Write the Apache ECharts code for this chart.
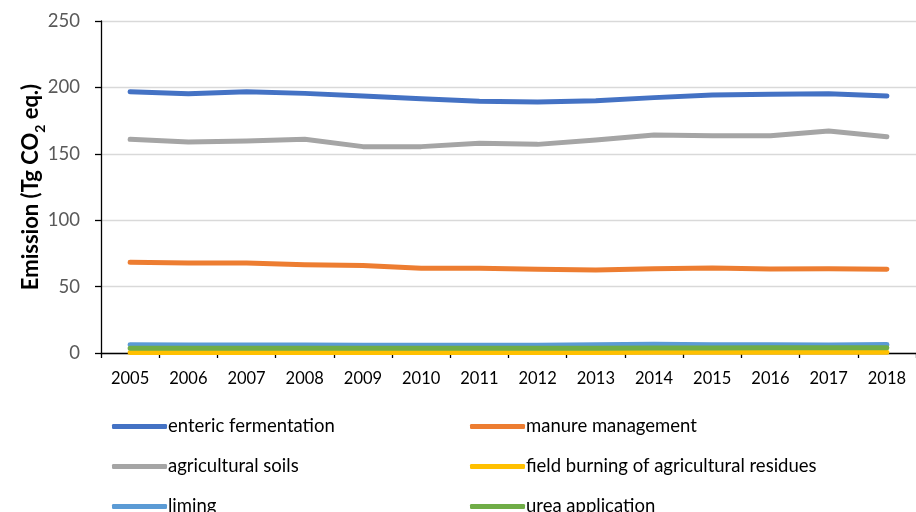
<!DOCTYPE html>
<html>
<head>
<meta charset="utf-8">
<script src="https://cdn.jsdelivr.net/npm/echarts@6/dist/echarts.min.js"></script>
<style>html,body{margin:0;padding:0;background:#fff;}#chart{width:916px;height:512px;}</style>
</head>
<body>
<div id="chart"></div>
<script>
var years = ['2005','2006','2007','2008','2009','2010','2011','2012','2013','2014','2015','2016','2017','2018'];
var entericFermentation = [196.8, 195.3, 196.8, 195.5, 193.5, 191.5, 189.5, 189.0, 190.0, 192.3, 194.3, 194.8, 195.3, 193.5];
var manureManagement = [68.3, 67.8, 67.8, 66.5, 65.8, 63.8, 63.8, 63.0, 62.5, 63.5, 64.0, 63.3, 63.5, 63.0];
var agriculturalSoils = [160.9, 158.9, 159.6, 160.9, 155.4, 155.4, 157.9, 157.1, 160.4, 164.2, 163.6, 163.6, 167.2, 162.9];
var fieldBurning = [0.4, 0.4, 0.4, 0.4, 0.4, 0.4, 0.4, 0.4, 0.4, 0.5, 0.5, 0.5, 0.5, 0.5];
var liming = [6.3, 6.1, 6.0, 6.0, 5.9, 5.8, 5.9, 5.9, 6.2, 6.6, 6.2, 6.2, 6.0, 6.4];
var ureaApplication = [3.5, 3.5, 3.5, 3.5, 3.5, 3.5, 3.5, 3.5, 3.6, 3.7, 3.8, 3.9, 3.9, 4.0];
var yTicks = [0, 50, 100, 150, 200, 250];

var seriesNames = ['enteric fermentation','manure management','agricultural soils','field burning of agricultural residues','liming','urea application'];
var seriesData = [entericFermentation, manureManagement, agriculturalSoils, fieldBurning, liming, ureaApplication];
var colors = ['#4472C4','#ED7D31','#A5A5A5','#FFC000','#5B9BD5','#70AD47'];
var FONT = 'Lato';

var chart = echarts.init(document.getElementById('chart'));
var legendBase = {
  orient: 'vertical',
  top: 411,
  height: 160,
  itemWidth: 55,
  itemHeight: 5,
  itemGap: 19,
  icon: 'roundRect',
  textStyle: {fontFamily: FONT, fontSize: 18.5, color: '#000', padding: [0,0,0,-4], lineHeight: 21}
};
chart.setOption({
  animation: false,
  color: colors,
  grid: {left: 101, top: 21, width: 823, height: 332, containLabel: false},
  legend: [
    Object.assign({}, legendBase, {left: 107, data: [seriesNames[0], seriesNames[2], seriesNames[4]]}),
    Object.assign({}, legendBase, {left: 465, data: [seriesNames[1], seriesNames[3], seriesNames[5]]})
  ],
  xAxis: {
    type: 'category',
    data: years,
    boundaryGap: true,
    axisLine: {lineStyle: {color: '#000', width: 1.3}},
    axisTick: {show: true, length: 5, lineStyle: {color: '#000', width: 1.3}},
    axisLabel: {fontFamily: FONT, fontSize: 16.5, color: '#000', margin: 17}
  },
  yAxis: {
    type: 'value',
    min: yTicks[0],
    max: yTicks[yTicks.length - 1],
    interval: 50,
    name: '{b|Emission (Tg CO}{s|2}{b| eq.)}',
    nameLocation: 'middle',
    nameGap: 59,
    nameMoveOverlap: false,
    nameTextStyle: {
      rich: {
        b: {fontFamily: FONT, fontSize: 22, fontWeight: 'bold', color: '#000', lineHeight: 26, verticalAlign: 'bottom'},
        s: {fontFamily: FONT, fontSize: 14, fontWeight: 'bold', color: '#000', lineHeight: 26, verticalAlign: 'bottom', padding: [0,0,-5,0]}
      }
    },
    axisLine: {show: true, lineStyle: {color: '#000', width: 1.3}},
    axisTick: {show: true, length: 6, inside: false, lineStyle: {color: '#000', width: 1.3}},
    axisLabel: {fontFamily: FONT, fontSize: 18.5, color: '#595959', margin: 21},
    splitLine: {show: true, lineStyle: {color: '#D9D9D9', width: 1.3}}
  },
  series: seriesNames.map(function (n, i) {
    return {
      name: n,
      type: 'line',
      data: seriesData[i],
      showSymbol: false,
      symbol: 'none',
      lineStyle: {width: 5, color: colors[i], cap: 'round', join: 'round'},
      itemStyle: {color: colors[i]}
    };
  })
});
</script>
</body>
</html>
